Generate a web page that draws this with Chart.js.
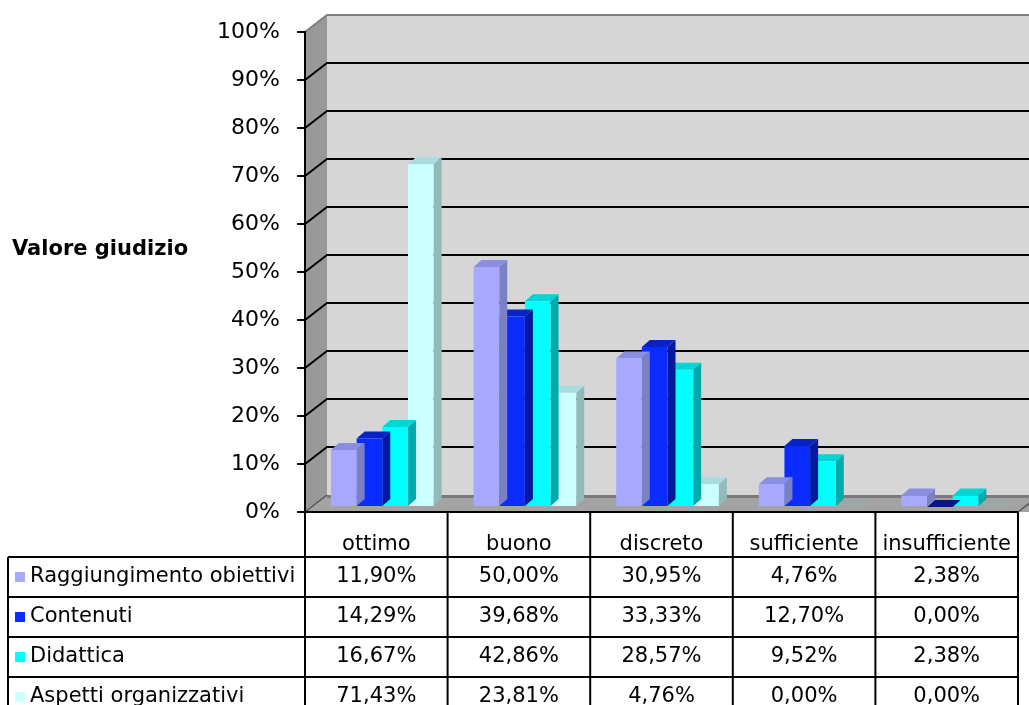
<!DOCTYPE html>
<html>
<head>
<meta charset="utf-8">
<script src="https://cdn.jsdelivr.net/npm/chart.js@4/dist/chart.umd.min.js"></script>
<style>
  html, body { margin: 0; padding: 0; background: #fff; }
  #chartBox { width: 1029px; height: 705px; }
</style>
</head>
<body>
<div id="chartBox"><canvas id="myChart" width="1029" height="705"></canvas></div>
<script>
const categories = ['ottimo', 'buono', 'discreto', 'sufficiente', 'insufficiente'];
const seriesNames = ['Raggiungimento obiettivi', 'Contenuti', 'Didattica', 'Aspetti organizzativi'];
const raggiungimento = [11.90, 50.00, 30.95, 4.76, 2.38];
const contenuti = [14.29, 39.68, 33.33, 12.70, 0.00];
const didattica = [16.67, 42.86, 28.57, 9.52, 2.38];
const aspetti = [71.43, 23.81, 4.76, 0.00, 0.00];
const yTicks = [0, 10, 20, 30, 40, 50, 60, 70, 80, 90, 100];
const axisTitle = 'Valore giudizio';

// colours: front face, top face, side face
const frontColors = ['#a6a9ff', '#0a2cff', '#00ffff', '#ccffff'];
const topColors = ['#8a8ee0', '#0822c4', '#00d4d4', '#a9dcdc'];
const sideColors = ['#7b7fc4', '#06189c', '#00aaaa', '#92baba'];
const zeroColors = ['#7b7fc4', '#0a1488', '#00aaaa', '#9aa8a8'];

const allSeries = [raggiungimento, contenuti, didattica, aspetti];

const FONT = 'Verdana, "DejaVu Sans", sans-serif';
const WALL_DX = 22, WALL_DY = 17;   // depth of the 3d walls
const BAR_DX = 8, BAR_DY = 7;       // depth of each bar
const SHIFT_X = 6, SHIFT_Y = -5;    // bars sit a little behind the front plane

const fmt = (v) => v.toFixed(2).replace('.', ',') + '%';

// walls, floor and gridlines behind the bars
const wallsPlugin = {
    id: 'walls',
    beforeDraw(chart) {
        const ctx = chart.ctx;
        const area = chart.chartArea;
        const yScale = chart.scales.y;
        const top = yScale.getPixelForValue(100);
        const bottom = yScale.getPixelForValue(0);
        const left = area.left, right = area.right;

        ctx.save();
        // back wall
        ctx.fillStyle = '#d6d6d6';
        ctx.fillRect(left + WALL_DX, top - WALL_DY, right - left + 20, bottom - top);
        // left wall
        ctx.fillStyle = '#999999';
        ctx.beginPath();
        ctx.moveTo(left, top);
        ctx.lineTo(left + WALL_DX, top - WALL_DY);
        ctx.lineTo(left + WALL_DX, bottom - WALL_DY);
        ctx.lineTo(left, bottom);
        ctx.closePath();
        ctx.fill();
        // floor
        ctx.fillStyle = '#a3a3a3';
        ctx.beginPath();
        ctx.moveTo(left, bottom);
        ctx.lineTo(left + WALL_DX, bottom - WALL_DY);
        ctx.lineTo(right + WALL_DX + 20, bottom - WALL_DY);
        ctx.lineTo(right + 20, bottom);
        ctx.closePath();
        ctx.fill();
        ctx.fillStyle = '#7a7a7a';
        ctx.fillRect(left + WALL_DX, bottom - WALL_DY, right - left + 20, 3);

        // gridlines on the back wall
        yTicks.forEach(v => {
            if (v === 0) return;
            const y = yScale.getPixelForValue(v);
            ctx.strokeStyle = v === 100 ? '#808080' : '#000';
            ctx.lineWidth = 2;
            ctx.beginPath();
            ctx.moveTo(left, y);
            ctx.lineTo(left + WALL_DX, y - WALL_DY);
            ctx.lineTo(right + WALL_DX + 20, y - WALL_DY);
            ctx.stroke();
        });
        // floor edges
        ctx.strokeStyle = '#555';
        ctx.lineWidth = 1.5;
        ctx.beginPath();
        ctx.moveTo(left, bottom);
        ctx.lineTo(left + WALL_DX, bottom - WALL_DY);
        ctx.moveTo(right, bottom);
        ctx.lineTo(right + WALL_DX, bottom - WALL_DY);
        ctx.stroke();
        ctx.restore();
    },
    beforeDatasetsDraw(chart) {
        chart.ctx.save();
        chart.ctx.translate(SHIFT_X, SHIFT_Y);
    },
    beforeDatasetDraw(chart, args) {
        // top and side faces, drawn before the library paints the front face
        const ctx = chart.ctx;
        const i = args.index;
        args.meta.data.forEach((el, k) => {
            const p = el.getProps(['x', 'y', 'base', 'width'], true);
            const xl = p.x - p.width / 2, xr = p.x + p.width / 2;
            const zero = allSeries[i][k] === 0;
            ctx.fillStyle = sideColors[i];
            ctx.beginPath();
            ctx.moveTo(xr, p.y);
            ctx.lineTo(xr + BAR_DX, p.y - BAR_DY);
            ctx.lineTo(xr + BAR_DX, p.base - BAR_DY);
            ctx.lineTo(xr, p.base);
            ctx.closePath();
            ctx.fill();
            ctx.fillStyle = zero ? zeroColors[i] : topColors[i];
            ctx.beginPath();
            ctx.moveTo(xl, p.y);
            ctx.lineTo(xl + BAR_DX, p.y - BAR_DY);
            ctx.lineTo(xr + BAR_DX, p.y - BAR_DY);
            ctx.lineTo(xr, p.y);
            ctx.closePath();
            ctx.fill();
        });
    },
    afterDatasetsDraw(chart) {
        chart.ctx.restore();
    },
    afterDraw(chart) {
        const ctx = chart.ctx;
        const area = chart.chartArea;
        const yScale = chart.scales.y;
        const left = area.left, right = area.right;
        const bottom = yScale.getPixelForValue(0);
        const catW = (right - left) / categories.length;
        const headerH = 45, rowH = 40;
        const tableLeft = 8;
        const rowTop = bottom + headerH;

        ctx.save();
        ctx.strokeStyle = '#000';
        ctx.lineWidth = 2;
        ctx.beginPath();
        // header top (front edge of floor)
        ctx.moveTo(left, bottom);
        ctx.lineTo(right, bottom);
        // column lines
        for (let c = 0; c <= categories.length; c++) {
            const x = left + c * catW;
            ctx.moveTo(x, bottom);
            ctx.lineTo(x, chart.height + 5);
        }
        // left border of legend column
        ctx.moveTo(tableLeft, rowTop);
        ctx.lineTo(tableLeft, chart.height + 5);
        // row lines
        for (let r = 0; r <= seriesNames.length; r++) {
            const y = rowTop + r * rowH;
            ctx.moveTo(tableLeft, y);
            ctx.lineTo(right, y);
        }
        ctx.stroke();

        ctx.fillStyle = '#000';
        ctx.textBaseline = 'middle';
        ctx.font = '21px ' + FONT;
        ctx.textAlign = 'center';
        categories.forEach((c, k) => {
            ctx.fillText(c, chart.scales.x.getPixelForValue(k), bottom + 33);
        });
        seriesNames.forEach((name, r) => {
            const yc = rowTop + r * rowH + rowH / 2;
            ctx.fillStyle = frontColors[r];
            ctx.fillRect(15, yc - 5, 10, 10);
            ctx.fillStyle = '#000';
            ctx.textAlign = 'left';
            ctx.fillText(name, 30, yc);
            ctx.textAlign = 'center';
            allSeries[r].forEach((v, k) => {
                ctx.fillText(fmt(v), chart.scales.x.getPixelForValue(k), yc);
            });
        });

        // horizontal axis title at the left
        ctx.font = 'bold 21px ' + FONT;
        ctx.textAlign = 'left';
        ctx.fillText(axisTitle, 12, 250);
        ctx.restore();
    }
};

const ctx = document.getElementById('myChart').getContext('2d');
const myChart = new Chart(ctx, {
    type: 'bar',
    data: {
        labels: categories,
        datasets: seriesNames.map((name, i) => ({
            label: name,
            data: allSeries[i],
            backgroundColor: frontColors[i],
            borderWidth: 0,
            categoryPercentage: 0.72,
            barPercentage: 1.0
        }))
    },
    options: {
        responsive: false,
        animation: false,
        layout: { padding: { top: 32, bottom: 193, left: 0, right: 11 } },
        plugins: {
            legend: { display: false },
            tooltip: { enabled: false }
        },
        scales: {
            x: { display: false, offset: true },
            y: {
                min: 0,
                max: 100,
                afterFit: (s) => { s.width = 305; },
                afterBuildTicks: (s) => { s.ticks = yTicks.map(v => ({ value: v })); },
                ticks: {
                    color: '#000',
                    font: { family: FONT, size: 22 },
                    padding: 17,
                    callback: (v) => v + '%'
                },
                grid: { drawOnChartArea: false, drawTicks: true, tickLength: 8, color: '#000', lineWidth: 2 },
                border: { display: true, color: '#000', width: 2 }
            }
        }
    },
    plugins: [wallsPlugin]
});
</script>
</body>
</html>
